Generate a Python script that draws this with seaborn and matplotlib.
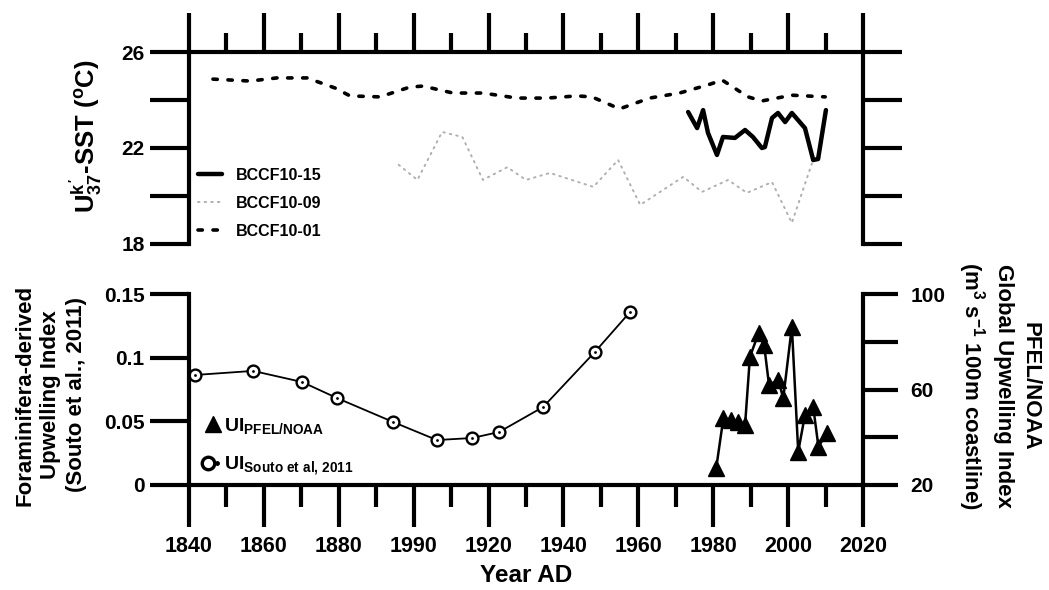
import numpy as np
import pandas as pd
import matplotlib
matplotlib.use("Agg")
import matplotlib.pyplot as plt
import seaborn as sns
from matplotlib.ticker import FixedLocator, MultipleLocator
from matplotlib.lines import Line2D
from matplotlib.legend_handler import HandlerTuple

# ---------------- data ----------------
bccf01_year = [1846.4, 1856.3, 1863.5, 1871.5, 1879.0, 1883.0, 1891.0, 1899.0, 1902.5,
               1910.5, 1918.5, 1927.6, 1935.6, 1943.6, 1947.6, 1955.0, 1963.0, 1971.0,
               1978.6, 1982.4, 1989.3, 1993.0, 2001.0, 2009.9]
bccf01_sst = [24.87, 24.79, 24.92, 24.92, 24.50, 24.17, 24.13, 24.54, 24.58,
              24.29, 24.29, 24.08, 24.08, 24.17, 24.13, 23.63, 24.08, 24.29,
              24.63, 24.83, 24.13, 23.96, 24.20, 24.13]

bccf09_year = [1896.0, 1901.0, 1907.6, 1913.0, 1918.5, 1925.0, 1930.0, 1936.4, 1948.0,
               1954.6, 1960.5, 1972.0, 1977.0, 1984.0, 1989.0, 1995.7, 2001.0, 2006.4]
bccf09_sst = [21.30, 20.67, 22.67, 22.46, 20.67, 21.20, 20.67, 20.96, 20.38,
              21.50, 19.63, 20.80, 20.17, 20.67, 20.13, 20.58, 18.88, 21.38]

bccf15_year = [1973.3, 1975.7, 1977.3, 1978.6, 1981.0, 1982.6, 1985.8, 1988.5, 1990.6,
               1993.0, 1993.8, 1995.7, 1997.3, 1999.2, 2001.0, 2004.5, 2006.7, 2008.0, 2010.1]
bccf15_sst = [23.50, 22.83, 23.58, 22.63, 21.71, 22.46, 22.42, 22.75, 22.46,
              22.00, 22.04, 23.25, 23.46, 23.08, 23.46, 22.83, 21.50, 21.54, 23.58]

souto_year = [1841.6, 1857.1, 1870.2, 1879.5, 1894.5, 1906.2, 1915.6, 1922.8, 1934.6, 1948.4, 1957.8]
souto_ui = [0.0864, 0.0896, 0.0809, 0.0683, 0.0495, 0.0353, 0.0369, 0.0416, 0.0613, 0.1045, 0.1359]

pfel_year = [1980.8, 1982.7, 1984.8, 1986.5, 1988.5, 1989.8, 1992.1, 1993.6, 1994.9,
             1997.4, 1998.7, 2001.0, 2002.7, 2004.5, 2006.7, 2008.1, 2010.3]
pfel_ui = [27.1, 47.9, 47.2, 46.5, 45.1, 73.7, 83.5, 78.6, 61.9,
           64.0, 56.3, 86.3, 34.0, 49.3, 52.8, 36.0, 41.7]

year_ticks = [1840, 1860, 1880, 1900, 1920, 1940, 1960, 1980, 2000, 2020]
year_labels = ["1840", "1860", "1880", "1990", "1920", "1940", "1960", "1980", "2000", "2020"]
sst_ticks = [18, 22, 26]
sst_minor = [20, 24]
ui_ticks = [0, 0.05, 0.1, 0.15]
ui_labels = ["0", "0.05", "0.1", "0.15"]
pfel_ticks = [20, 60, 100]
pfel_minor = [40, 80]

# ---------------- style ----------------
sns.set_style("white")
plt.rcParams["font.family"] = ["Liberation Sans", "DejaVu Sans"]
plt.rcParams["font.weight"] = "bold"
plt.rcParams["mathtext.fontset"] = "custom"
plt.rcParams["mathtext.rm"] = "Liberation Sans:bold"
plt.rcParams["mathtext.it"] = "Liberation Sans:bold"
plt.rcParams["mathtext.bf"] = "Liberation Sans:bold"
plt.rcParams["mathtext.sf"] = "Liberation Sans:bold"
plt.rcParams["axes.linewidth"] = 3
for k in ("text.color", "axes.labelcolor", "xtick.color", "ytick.color", "axes.edgecolor"):
    plt.rcParams[k] = "black"

W, H = 1049, 590
fig = plt.figure(figsize=(W / 100, H / 100), dpi=100, facecolor="white")
ax1 = fig.add_axes([189 / W, 1 - 244 / H, 674 / W, 192 / H])
ax3 = fig.add_axes([189 / W, 1 - 485 / H, 674 / W, 191 / H])
ax4 = ax3.twinx()
for a in (ax1, ax3, ax4):
    a.set_facecolor("none")

# ---------------- top panel ----------------
sns.lineplot(x=bccf01_year, y=bccf01_sst, ax=ax1, color="black", lw=2.6,
             linestyle=(0, (1.2, 2.95)), dash_capstyle="round")
sns.lineplot(x=bccf09_year, y=bccf09_sst, ax=ax1, color="#b0b0b0", lw=1.4,
             linestyle=(0, (0.8, 2.6)), dash_capstyle="round")
sns.lineplot(x=bccf15_year, y=bccf15_sst, ax=ax1, color="black", lw=3.2,
             solid_joinstyle="round", solid_capstyle="round")

ax1.set_xlim(1840, 2020)
ax1.set_ylim(18, 26)
ax1.spines["bottom"].set_visible(False)
for s in ("top", "left", "right"):
    ax1.spines[s].set_visible(True)
    ax1.spines[s].set_linewidth(3)
ax1.xaxis.set_ticks_position("top")
ax1.xaxis.set_major_locator(MultipleLocator(20))
ax1.xaxis.set_minor_locator(MultipleLocator(10))
ax1.tick_params(axis="x", which="major", length=28, width=3, direction="out",
                top=True, bottom=False, labeltop=False, labelbottom=False)
ax1.tick_params(axis="x", which="minor", length=14, width=3, direction="out",
                top=True, bottom=False)
ax1.yaxis.set_major_locator(FixedLocator(sst_ticks))
ax1.yaxis.set_minor_locator(FixedLocator(sst_minor))
ax1.tick_params(axis="y", which="both", length=28, width=3, direction="out",
                left=True, right=True, labelleft=True, labelright=False,
                labelsize=15, pad=4)
ax1.set_xlabel("")
ax1.set_ylabel("")

h15 = Line2D([], [], color="black", lw=3.2, solid_capstyle="round")
h09 = Line2D([], [], color="#b0b0b0", lw=1.4, linestyle=(0, (0.8, 2.6)), dash_capstyle="round")
h01 = Line2D([], [], color="black", lw=2.6, linestyle=(0, (1.2, 2.95)), dash_capstyle="round")
ax1.legend([h15, h09, h01], ["BCCF10-15", "BCCF10-09", "BCCF10-01"],
           loc="upper left", bbox_to_anchor=(198 / W, 1 - 168 / H),
           bbox_transform=fig.transFigure, frameon=False, fontsize=11.5,
           handlelength=1.5, handletextpad=0.9, labelspacing=0.8,
           borderpad=0, borderaxespad=0)

fig.text(86 / W, 1 - 136 / H, r"U$^{k'}_{37}$-SST ($^{o}$C)", rotation=90,
         ha="center", va="center", fontsize=18.5, fontweight="bold")

# ---------------- bottom panel ----------------
sns.lineplot(x=souto_year, y=souto_ui, ax=ax3, color="black", lw=1.3,
             marker="o", markersize=8.5, markerfacecolor="white",
             markeredgecolor="black", markeredgewidth=1.7)
sns.scatterplot(x=souto_year, y=souto_ui, ax=ax3, color="black", s=4,
                linewidth=0, zorder=5)
sns.lineplot(x=pfel_year, y=pfel_ui, ax=ax4, color="black", lw=1.8,
             marker="^", markersize=11.5, markerfacecolor="black",
             markeredgecolor="black", markeredgewidth=1)

ax3.set_xlim(1840, 2020)
ax3.set_ylim(0, 0.15)
ax4.set_ylim(20, 100)
ax3.spines["top"].set_visible(False)
ax3.spines["right"].set_visible(False)
ax3.spines["left"].set_linewidth(3)
ax3.spines["bottom"].set_linewidth(3)
for s in ("top", "left", "bottom"):
    ax4.spines[s].set_visible(False)
ax4.spines["right"].set_visible(True)
ax4.spines["right"].set_linewidth(3)

ax3.xaxis.set_major_locator(FixedLocator(year_ticks))
ax3.xaxis.set_minor_locator(MultipleLocator(10))
ax3.set_xticklabels(year_labels)
ax3.tick_params(axis="x", which="major", length=30, width=3, direction="out",
                bottom=True, top=False, labelsize=15.5, pad=7)
ax3.tick_params(axis="x", which="minor", length=16, width=3, direction="out",
                bottom=True, top=False)
ax3.yaxis.set_major_locator(FixedLocator(ui_ticks))
ax3.set_yticklabels(ui_labels)
ax3.tick_params(axis="y", which="major", length=28, width=3, direction="out",
                left=True, right=False, labelsize=15, pad=4)
ax3.set_xlabel("Year AD", fontsize=17.5, fontweight="bold", labelpad=5)
ax3.set_ylabel("")

ax4.yaxis.set_major_locator(FixedLocator(pfel_ticks))
ax4.yaxis.set_minor_locator(FixedLocator(pfel_minor))
ax4.tick_params(axis="y", which="both", length=25, width=3, direction="out",
                right=True, left=False, labelright=True, labelleft=False,
                labelsize=15, pad=9)
ax4.set_ylabel("")

hp = Line2D([], [], color="black", lw=0, marker="^", markersize=11.5)
hs_ring = Line2D([], [], color="black", lw=0, marker="o", markersize=9,
                 markerfacecolor="white", markeredgewidth=2.4)
hs_dot = Line2D([], [], color="black", lw=0, marker="o", markersize=2.5)
ax4.legend([hp, (hs_ring, hs_dot)],
           [r"UI$_{\rm PFEL/NOAA}$", r"UI$_{\rm Souto\ et\ al{,}\ 2011}$"],
           handler_map={tuple: HandlerTuple(ndivide=None, pad=0)},
           loc="upper left", bbox_to_anchor=(204 / W, 1 - 416 / H),
           bbox_transform=fig.transFigure, frameon=False, fontsize=14,
           handlelength=0.9, handletextpad=0.15, labelspacing=0.95,
           borderpad=0, borderaxespad=0)

fig.text(51 / W, 1 - 395 / H,
         "Foraminifera-derived\nUpwelling Index\n(Souto et al., 2011)",
         rotation=90, ha="center", va="center", fontsize=16, fontweight="bold",
         linespacing=1.3, multialignment="center")
fig.text(998 / W, 1 - 386 / H,
         "PFEL/NOAA\nGlobal Upwelling Index\n(m$^{3}$ s$^{-1}$ 100m coastline)",
         rotation=270, ha="center", va="center", fontsize=16, fontweight="bold",
         linespacing=1.3, multialignment="center")

fig.savefig("out.png", dpi=100, facecolor="white")
